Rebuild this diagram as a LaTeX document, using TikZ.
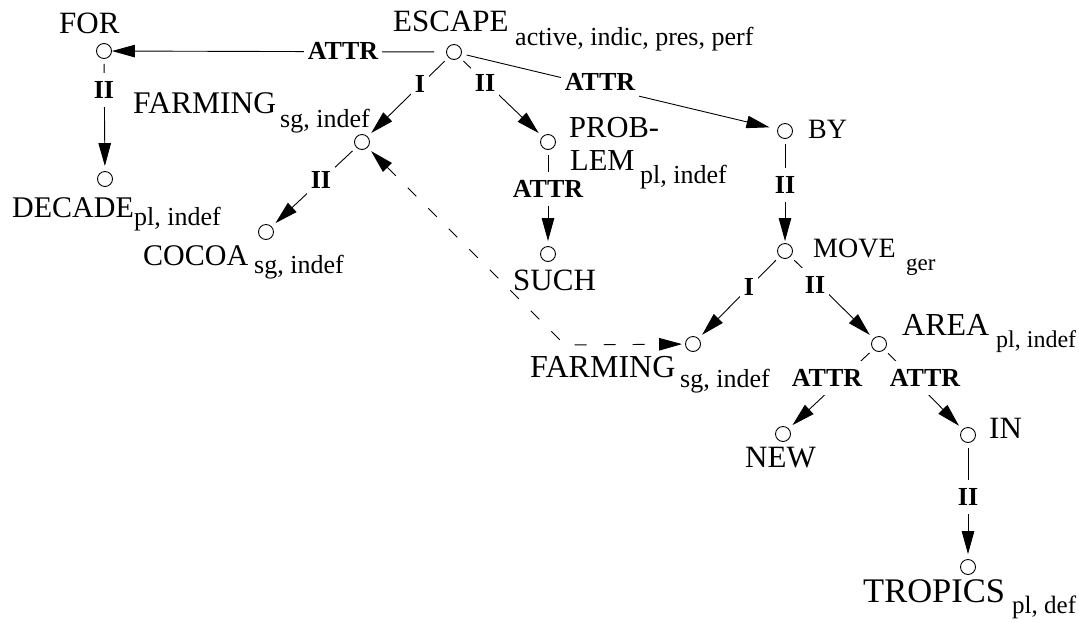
\documentclass[tikz,border=0pt]{standalone}
\usepackage{fontspec}
\setmainfont{Liberation Serif}
\usetikzlibrary{arrows.meta}

\tikzset{
  vertex/.style={circle, draw, line width=0.9pt, minimum size=15pt, inner sep=0pt},
  word/.style={anchor=base west, inner sep=0pt, font=\fontsize{#1}{36}\selectfont},
  word/.default=31,
  gram/.style={anchor=base west, inner sep=0pt, font=\fontsize{#1}{30}\selectfont},
  gram/.default=26,
  rel/.style={fill=white, inner xsep=4pt, inner ysep=8pt, font=\fontsize{26}{30}\selectfont\bfseries},
  link/.style={line width=0.9pt, -{Triangle[length=23pt,width=12.5pt]}, shorten <=5pt, shorten >=5pt},
  corefer/.style={line width=0.9pt, dash pattern=on 12pt off 17pt,
    {Triangle[length=23pt,width=12.5pt]}-{Triangle[length=23pt,width=12.5pt]},
    shorten <=5pt, shorten >=3pt},
}

\begin{document}
\begin{tikzpicture}[x=1pt, y=-1pt]
\useasboundingbox (0,0) rectangle (1079,622);

% tree vertices
\node[vertex] (for)    at (104,51)  {};
\node[vertex] (escape) at (454,52)  {};
\node[vertex] (farm1)  at (362,142) {};
\node[vertex] (decade) at (105,179) {};
\node[vertex] (cocoa)  at (266,232) {};
\node[vertex] (prob)   at (548,142) {};
\node[vertex] (such)   at (548,254) {};
\node[vertex] (by)     at (785,131) {};
\node[vertex] (move)   at (785,251) {};
\node[vertex] (farm2)  at (693,344) {};
\node[vertex] (area)   at (879,344) {};
\node[vertex] (new)    at (783,434) {};
\node[vertex] (in)     at (968,435) {};
\node[vertex] (trop)   at (968,567) {};
\coordinate (bend) at (565,345);

% word forms and grammemes
\node[word]      (forW)   at (59,33)   {FOR};
\node[word]      (escW)   at (393,31)  {ESCAPE};
\node[gram]      (escS)   at (515,45)  {active, indic, pres, perf};
\node[word=31.5] (farm1W) at (133,113) {FARMING};
\node[gram]      (farm1S) at (280,127) {sg, indef};
\node[word=30]   (decW)   at (12,217)  {DECADE};
\node[gram]      (decS)   at (134,225) {pl, indef};
\node[word=30]   (cocW)   at (143,265) {COCOA};
\node[gram]      (cocS)   at (254,273) {sg, indef};
\node[word=30.5] (probW)  at (569,137) {PROB-};
\node[word=30.5] (lemW)   at (570,170) {LEM};
\node[gram]      (probS)  at (640,183) {pl, indef};
\node[word]      (suchW)  at (513,290) {SUCH};
\node[word=28]   (byW)    at (808,138) {BY};
\node[word=28]   (moveW)  at (813,257) {MOVE};
\node[gram=23]   (moveS)  at (906,270) {ger};
\node[word=32]   (farm2W) at (530,377) {FARMING};
\node[gram]      (farm2S) at (680,387) {sg, indef};
\node[word=32]   (areaW)  at (902,335) {AREA};
\node[gram=24]   (areaS)  at (996,347) {pl, indef};
\node[word]      (newW)   at (745,467) {NEW};
\node[word]      (inW)    at (989,438) {IN};
\node[word=34.5] (tropW)  at (863,602) {TROPICS};
\node[gram=25]   (tropS)  at (1012,613) {pl, def};

% dependency arcs
\draw[link, shorten <=12pt, shorten >=0pt] (escape) -- (for);
\draw[link] (for) -- (decade);
\draw[link] (escape) -- (farm1);
\draw[link] (escape) -- (prob);
\draw[link, shorten >=8pt] (escape) -- (by);
\draw[link] (farm1) -- (cocoa);
\draw[link] (prob) -- (such);
\draw[link, shorten >=2pt] (by) -- (move);
\draw[link] (move) -- (farm2);
\draw[link] (move) -- (area);
\draw[link] (area) -- (new);
\draw[link] (area) -- (in);
\draw[link] (in) -- (trop);

% coreference
\draw[corefer] (farm1) -- (bend) -- (farm2);

% relation labels
\node[rel] (r1)  at (343,51)  {ATTR};
\node[rel] (r2)  at (104,90)  {II};
\node[rel] (r3)  at (420,84)  {I};
\node[rel] (r4)  at (485,83)  {II};
\node[rel] (r5)  at (600,82)  {ATTR};
\node[rel] (r6)  at (321,180) {II};
\node[rel] (r7)  at (548,189) {ATTR};
\node[rel] (r8)  at (785,185) {II};
\node[rel] (r9)  at (749,287) {I};
\node[rel] (r10) at (815,285) {II};
\node[rel] (r11) at (827,378) {ATTR};
\node[rel] (r12) at (925,378) {ATTR};
\node[rel] (r13) at (968,497) {II};
\end{tikzpicture}
\end{document}
